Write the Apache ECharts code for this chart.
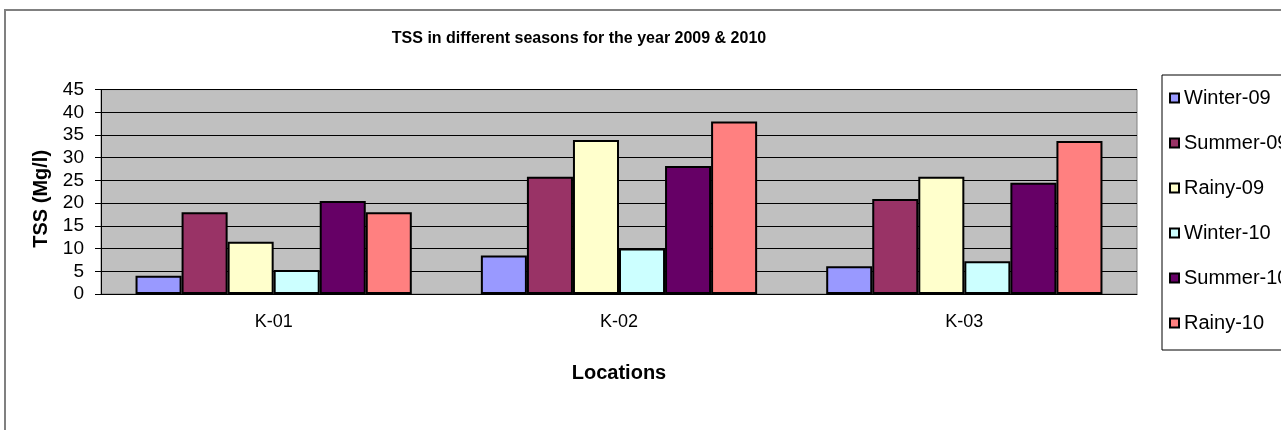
<!DOCTYPE html>
<html>
<head>
    <meta charset="utf-8">
    <script src="https://cdn.jsdelivr.net/npm/echarts@6/dist/echarts.min.js"></script>
    <style>
        html, body { margin: 0; padding: 0; background: #fff; }
        #main { width: 1281px; height: 430px; }
    </style>
</head>
<body>
<div id="main"></div>
<script>
    // 数据
    var locations = ['K-01', 'K-02', 'K-03'];
    var seasons = ['Winter-09', 'Summer-09', 'Rainy-09', 'Winter-10', 'Summer-10', 'Rainy-10'];
    var winter09 = [4.0, 8.5, 6.1];
    var summer09 = [18.0, 25.8, 20.9];
    var rainy09 = [11.5, 33.9, 25.8];
    var winter10 = [5.3, 10.0, 7.2];
    var summer10 = [20.5, 28.2, 24.5];
    var rainy10 = [18.0, 38.0, 33.7];
    var colors = ['#9999FF', '#993366', '#FFFFCC', '#CCFFFF', '#660066', '#FF8080'];
    var values = [winter09, summer09, rainy09, winter10, summer10, rainy10];

    var font = 'Liberation Sans, Arial, sans-serif';
    var series = [];
    for (var i = 0; i < seasons.length; i++) {
        series.push({
            name: seasons[i],
            type: 'bar',
            data: values[i],
            barGap: '0%',
            barCategoryGap: '20%',
            itemStyle: { color: colors[i], borderColor: '#000', borderWidth: 2 }
        });
    }

    var myChart = echarts.init(document.getElementById('main'));
    var option = {
        animation: false,
        textStyle: { fontFamily: font },
        graphic: [{
            type: 'rect',
            shape: { x: 5, y: 10, width: 1300, height: 440 },
            style: { fill: 'none', stroke: '#808080', lineWidth: 2 },
            z: -10
        }],
        title: {
            text: 'TSS in different seasons for the year 2009 & 2010',
            left: 574, top: 26, textAlign: 'center',
            textStyle: { fontFamily: font, fontSize: 16, fontWeight: 'bold', color: '#000' }
        },
        legend: {
            orient: 'vertical',
            left: 1162, top: 75,
            padding: [13, 40, 17, 7],
            itemWidth: 9, itemHeight: 9, itemGap: 25,
            icon: 'rect',
            borderColor: '#000', borderWidth: 1,
            textStyle: { fontFamily: font, fontSize: 20, lineHeight: 20, color: '#000' },
            data: seasons
        },
        grid: {
            left: 101, top: 89.6, right: 144, bottom: 136,
            show: true, backgroundColor: '#C0C0C0', borderColor: '#808080', borderWidth: 1
        },
        xAxis: {
            type: 'category',
            data: locations,
            name: 'Locations', nameLocation: 'middle', nameGap: 69,
            nameTextStyle: { fontFamily: font, fontSize: 20, fontWeight: 'bold', color: '#000' },
            axisLine: { lineStyle: { color: '#000', width: 1 } },
            axisTick: { length: 5, lineStyle: { color: '#000' } },
            axisLabel: { margin: 19, fontFamily: font, fontSize: 18, color: '#000' }
        },
        yAxis: {
            type: 'value', min: 0, max: 45, interval: 5,
            name: 'TSS (Mg/l)', nameLocation: 'middle', nameGap: 46, nameRotate: 90,
            nameTextStyle: { fontFamily: font, fontSize: 20, fontWeight: 'bold', color: '#000', padding: [0, 14, 0, 0] },
            axisLine: { show: true, lineStyle: { color: '#000', width: 1 } },
            axisTick: { show: true, length: 6, lineStyle: { color: '#000' } },
            axisLabel: { margin: 17, fontFamily: font, fontSize: 19, color: '#000' },
            splitLine: { lineStyle: { color: '#000', width: 1 } }
        },
        series: series
    };
    myChart.setOption(option);
</script>
</body>
</html>
